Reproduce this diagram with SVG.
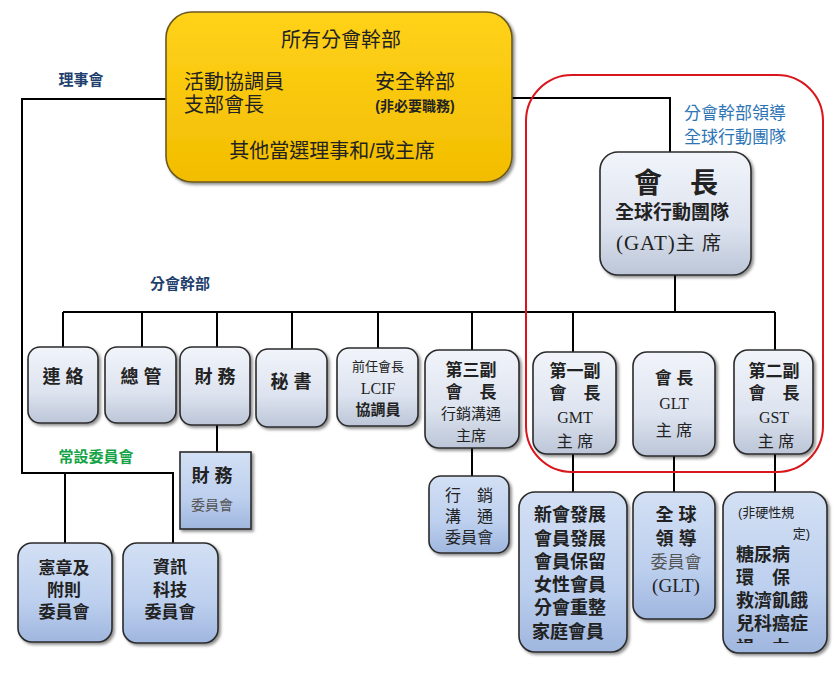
<svg xmlns="http://www.w3.org/2000/svg" width="837" height="685" viewBox="0 0 837 685">
<defs>
<linearGradient id="gy" x1="0" y1="0" x2="0" y2="1"><stop offset="0" stop-color="#ffd21a"/><stop offset="1" stop-color="#f2bd00"/></linearGradient>
<linearGradient id="gg" x1="0" y1="0" x2="0" y2="1"><stop offset="0" stop-color="#f1f4fa"/><stop offset="0.6" stop-color="#dde3ef"/><stop offset="1" stop-color="#bcc6d8"/></linearGradient>
<linearGradient id="gb" x1="0" y1="0" x2="0" y2="1"><stop offset="0" stop-color="#d3e0f4"/><stop offset="0.6" stop-color="#bccfee"/><stop offset="1" stop-color="#9fb6de"/></linearGradient>
<filter id="sh" x="-10%" y="-10%" width="130%" height="130%"><feDropShadow dx="2" dy="2" stdDeviation="1.5" flood-color="#000" flood-opacity="0.45"/></filter>
<clipPath id="clipNR"><rect x="723" y="492" width="104" height="151"/></clipPath>
</defs>
<style>
text{font-family:"Liberation Sans","Noto Sans CJK TC",sans-serif;fill:#222;text-anchor:middle}
.b{font-weight:bold}
.s{font-family:"Liberation Serif","Noto Sans CJK TC",serif}
.n{stroke:#2b2b2b;stroke-width:1.6;filter:url(#sh)}
.g{fill:url(#gg)}
.bl{fill:url(#gb)}
.c{fill:none;stroke:#000;stroke-width:2}
.grey{fill:#555}
</style>
<rect width="837" height="685" fill="#fff"/>

<g id="connectors">
<path class="c" d="M166 99 H22 V473 H173 V543 M65 473 V543"/>
<path class="c" d="M512 98 H670 V153"/>
<path class="c" d="M675 275 V312 M63 312 H775 M63 312 V347 M142 312 V347 M217 312 V347 M292 312 V349 M378 312 V348 M472 312 V350 M573 312 V352 M775 312 V350"/>
<path class="c" d="M217 425 V452 M472 448 V476 M573 454 V492 M674 456 V492 M775 454 V492"/>
</g>

<g id="labels">
<text x="81" y="85" class="b" style="font-size:15px;fill:#1f3f6e">理事會</text>
<text x="180" y="289" class="b" style="font-size:15px;fill:#1f3f6e">分會幹部</text>
<text x="96" y="462" class="b" style="font-size:15px;fill:#14a346">常設委員會</text>
</g>

<g id="leadership">
<rect x="526" y="75" width="297" height="397" rx="46" fill="none" stroke="#d9161b" stroke-width="2"/>
<text x="735" y="119" style="font-size:17px;fill:#2e75b6">分會幹部領導</text>
<text x="735" y="143" style="font-size:17px;fill:#2e75b6">全球行動團隊</text>
</g>

<g id="officers">
<rect x="166" y="12" width="346" height="170" rx="26" fill="url(#gy)" stroke="#6b5a20" stroke-width="1.6" filter="url(#sh)"/>
<text x="341" y="47" style="font-size:20px">所有分會幹部</text>
<text x="184" y="89" style="font-size:20px;text-anchor:start">活動協調員</text>
<text x="184" y="112" style="font-size:20px;text-anchor:start">支部會長</text>
<text x="415" y="89" style="font-size:20px">安全幹部</text>
<text x="415" y="111" class="b" style="font-size:14px">(非必要職務)</text>
<text x="332" y="158" style="font-size:20px">其他當選理事和/或主席</text>
</g>

<g id="president">
<rect x="600" y="152" width="151" height="123" rx="18" class="n g"/>
<text x="676" y="193" class="b" style="font-size:28px">會　長</text>
<text x="672" y="219" class="b" style="font-size:19px">全球行動團隊</text>
<text x="669" y="250" class="s" style="font-size:21px;letter-spacing:1px">(GAT)<tspan style="font-family:'Liberation Sans','Noto Sans CJK TC',sans-serif;font-size:19px">主 席</tspan></text>
</g>

<g id="liaison"><rect x="28" y="347" width="70" height="76" rx="12" class="n g"/><text x="63" y="383" class="b" style="font-size:18px">連 絡</text></g>
<g id="admin"><rect x="105" y="347" width="71" height="76" rx="12" class="n g"/><text x="141" y="383" class="b" style="font-size:18px">總 管</text></g>
<g id="treasurer"><rect x="180" y="347" width="70" height="78" rx="12" class="n g"/><text x="215" y="383" class="b" style="font-size:18px">財 務</text></g>
<g id="secretary"><rect x="256" y="349" width="71" height="78" rx="12" class="n g"/><text x="291" y="388" class="b" style="font-size:18px">秘 書</text></g>
<g id="past-president"><rect x="337" y="348" width="81" height="78" rx="12" class="n g"/>
<text x="378" y="371" style="font-size:13px">前任會長</text>
<text x="378" y="394" class="s" style="font-size:16px">LCIF</text>
<text x="378" y="415" class="b" style="font-size:15px">協調員</text></g>

<g id="vp3"><rect x="425" y="350" width="94" height="98" rx="14" class="n g"/>
<text x="471" y="376" class="b" style="font-size:17px">第三副</text>
<text x="471" y="398" class="b" style="font-size:17px">會　長</text>
<text x="471" y="419" style="font-size:15px">行銷溝通</text>
<text x="471" y="441" style="font-size:15px">主席</text></g>

<g id="vp1"><rect x="533" y="352" width="83" height="102" rx="14" class="n g"/>
<text x="575" y="377" class="b" style="font-size:17px">第一副</text>
<text x="575" y="399" class="b" style="font-size:17px">會　長</text>
<text x="575" y="423" class="s" style="font-size:16px">GMT</text>
<text x="575" y="447" style="font-size:16px">主 席</text></g>

<g id="president-glt"><rect x="633" y="352" width="82" height="104" rx="14" class="n g"/>
<text x="674" y="384" class="b" style="font-size:17px">會 長</text>
<text x="674" y="409" class="s" style="font-size:16px">GLT</text>
<text x="674" y="436" style="font-size:16px">主 席</text></g>

<g id="vp2"><rect x="734" y="350" width="79" height="104" rx="14" class="n g"/>
<text x="774" y="377" class="b" style="font-size:17px">第二副</text>
<text x="774" y="399" class="b" style="font-size:17px">會　長</text>
<text x="774" y="423" class="s" style="font-size:16px">GST</text>
<text x="776" y="447" style="font-size:16px">主 席</text></g>

<g id="finance-committee"><rect x="180" y="452" width="71" height="77" class="n bl"/>
<text x="212" y="482" class="b" style="font-size:18px">財 務</text>
<text x="212" y="510" class="grey" style="font-size:14px">委員會</text></g>

<g id="constitution-committee"><rect x="18" y="543" width="94" height="99" rx="14" class="n bl"/>
<text x="64" y="574" class="b" style="font-size:17px">憲章及</text>
<text x="64" y="596" class="b" style="font-size:17px">附則</text>
<text x="64" y="618" class="b" style="font-size:17px">委員會</text></g>

<g id="it-committee"><rect x="123" y="543" width="95" height="100" rx="14" class="n bl"/>
<text x="170" y="573" class="b" style="font-size:17px">資訊</text>
<text x="170" y="596" class="b" style="font-size:17px">科技</text>
<text x="170" y="618" class="b" style="font-size:17px">委員會</text></g>

<g id="marketing-committee"><rect x="429" y="476" width="80" height="77" rx="12" class="n bl"/>
<text x="469" y="501" style="font-size:16px">行　銷</text>
<text x="469" y="522" style="font-size:16px">溝　通</text>
<text x="469" y="543" style="font-size:16px">委員會</text></g>

<g id="gmt-committee"><rect x="519" y="492" width="108" height="160" rx="16" class="n bl"/>
<text x="570" y="521" class="b" style="font-size:18px">新會發展</text>
<text x="570" y="545" class="b" style="font-size:18px">會員發展</text>
<text x="570" y="568" class="b" style="font-size:18px">會員保留</text>
<text x="570" y="591" class="b" style="font-size:18px">女性會員</text>
<text x="570" y="614" class="b" style="font-size:18px">分會重整</text>
<text x="568" y="638" class="b" style="font-size:18px">家庭會員</text></g>

<g id="glt-committee"><rect x="633" y="492" width="82" height="127" rx="14" class="n bl"/>
<text x="676" y="521" class="b" style="font-size:18px">全 球</text>
<text x="676" y="545" class="b" style="font-size:18px">領 導</text>
<text x="676" y="568" class="grey" style="font-size:17px">委員會</text>
<text x="676" y="592" class="s" style="font-size:19px">(GLT)</text></g>

<g id="service-committee"><rect x="723" y="492" width="104" height="161" rx="16" class="n bl"/>
<text x="738" y="517" style="font-size:13px;text-anchor:start">(非硬性規</text>
<text x="810" y="538" style="font-size:13px;text-anchor:end">定)</text>
<g clip-path="url(#clipNR)">
<text x="736" y="561" class="b" style="font-size:18px;text-anchor:start">糖尿病</text>
<text x="736" y="584" class="b" style="font-size:18px;text-anchor:start">環　保</text>
<text x="736" y="607" class="b" style="font-size:18px;text-anchor:start">救濟飢餓</text>
<text x="736" y="630" class="b" style="font-size:18px;text-anchor:start">兒科癌症</text>
<text x="736" y="654" class="b" style="font-size:18px;text-anchor:start">視　力</text>
</g></g>
</svg>
